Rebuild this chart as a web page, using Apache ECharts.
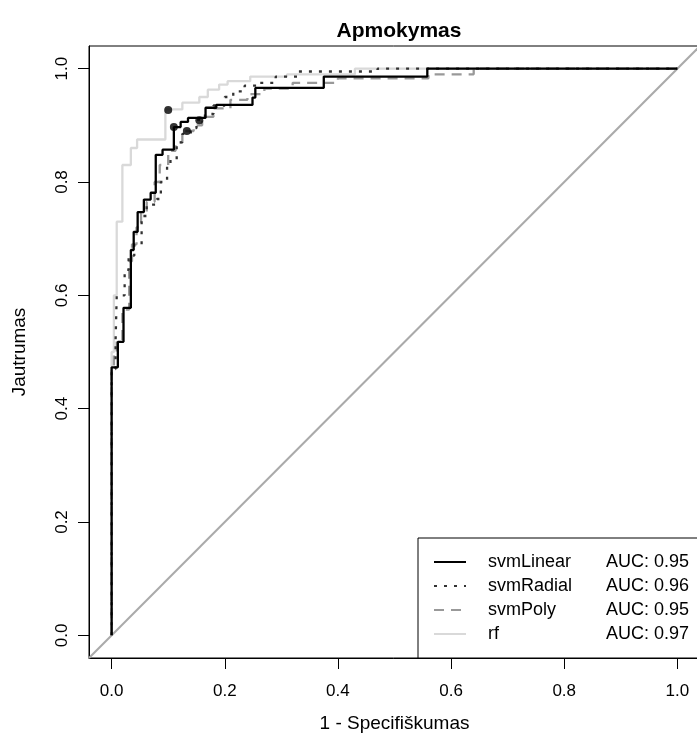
<!DOCTYPE html>
<html>
<head>
<meta charset="utf-8">
<script src="https://cdn.jsdelivr.net/npm/echarts@6/dist/echarts.min.js"></script>
<style>html,body{margin:0;padding:0;background:#fff}#c{width:697px;height:736px}</style>
</head>
<body>
<div id="c"></div>
<script>
// ---- data ----
const seriesNames = ['svmLinear', 'svmRadial', 'svmPoly', 'rf'];
const aucValues = [0.95, 0.96, 0.95, 0.97];
const xTicks = [0, 0.2, 0.4, 0.6, 0.8, 1.0];
const yTicks = [0, 0.2, 0.4, 0.6, 0.8, 1.0];
const diagonal = [[-0.04, -0.04], [1.04, 1.04]];

const svmLinear = [[0,0],[0,0.473],[0.011,0.473],[0.011,0.518],[0.021,0.518],[0.021,0.578],[0.034,0.578],[0.034,0.680],[0.039,0.680],[0.039,0.712],[0.046,0.712],[0.046,0.747],[0.057,0.747],[0.057,0.769],[0.069,0.769],[0.069,0.781],[0.078,0.781],[0.078,0.848],[0.090,0.848],[0.090,0.857],[0.110,0.857],[0.110,0.897],[0.122,0.897],[0.122,0.906],[0.135,0.906],[0.135,0.913],[0.166,0.913],[0.166,0.931],[0.185,0.931],[0.185,0.936],[0.249,0.936],[0.249,0.949],[0.254,0.949],[0.254,0.966],[0.375,0.966],[0.375,0.986],[0.558,0.986],[0.558,1],[1,1]];

const svmRadial = [[0,0],[0,0.47],[0.007,0.47],[0.007,0.52],[0.009,0.52],[0.009,0.60],[0.023,0.60],[0.023,0.645],[0.030,0.645],[0.030,0.67],[0.040,0.67],[0.040,0.69],[0.053,0.69],[0.053,0.74],[0.062,0.74],[0.062,0.76],[0.080,0.76],[0.080,0.77],[0.087,0.77],[0.087,0.80],[0.098,0.80],[0.098,0.83],[0.104,0.83],[0.104,0.84],[0.115,0.84],[0.115,0.87],[0.125,0.87],[0.125,0.885],[0.14,0.885],[0.14,0.895],[0.15,0.895],[0.15,0.91],[0.165,0.91],[0.165,0.92],[0.18,0.92],[0.18,0.935],[0.2,0.935],[0.2,0.95],[0.215,0.95],[0.215,0.96],[0.235,0.96],[0.235,0.97],[0.26,0.97],[0.26,0.975],[0.29,0.975],[0.29,0.986],[0.33,0.986],[0.33,0.995],[0.47,0.995],[0.47,1],[1,1]];

const svmPoly = [[0,0],[0,0.47],[0.004,0.47],[0.004,0.50],[0.009,0.50],[0.009,0.52],[0.019,0.52],[0.019,0.575],[0.031,0.575],[0.031,0.66],[0.036,0.66],[0.036,0.69],[0.044,0.69],[0.044,0.72],[0.052,0.72],[0.052,0.745],[0.062,0.745],[0.062,0.765],[0.076,0.765],[0.076,0.80],[0.085,0.80],[0.085,0.83],[0.1,0.83],[0.1,0.855],[0.113,0.855],[0.113,0.87],[0.125,0.87],[0.125,0.89],[0.145,0.89],[0.145,0.90],[0.16,0.90],[0.16,0.915],[0.18,0.915],[0.18,0.93],[0.21,0.93],[0.21,0.945],[0.24,0.945],[0.24,0.955],[0.27,0.955],[0.27,0.965],[0.32,0.965],[0.32,0.975],[0.4,0.975],[0.4,0.983],[0.56,0.983],[0.56,0.99],[0.64,0.99],[0.64,1],[1,1]];

const rf = [[0,0],[0,0.5],[0.004,0.5],[0.004,0.60],[0.009,0.60],[0.009,0.73],[0.019,0.73],[0.019,0.83],[0.034,0.83],[0.034,0.86],[0.045,0.86],[0.045,0.875],[0.095,0.875],[0.095,0.928],[0.125,0.928],[0.125,0.94],[0.155,0.94],[0.155,0.95],[0.17,0.95],[0.17,0.963],[0.19,0.963],[0.19,0.972],[0.205,0.972],[0.205,0.978],[0.245,0.978],[0.245,0.986],[0.31,0.986],[0.31,0.99],[0.43,0.99],[0.43,1],[1,1]];

// best-threshold points (svmLinear, svmRadial, svmPoly, rf)
const thresholdPoints = [[0.110, 0.897], [0.155, 0.909], [0.133, 0.890], [0.100, 0.927]];

// ---- chart ----
const FONT = 'Liberation Sans';
const chart = echarts.init(document.getElementById('c'), null, {renderer: 'canvas'});
const curveData = {svmLinear, svmRadial, svmPoly, rf};
const styles = {
  svmLinear: {color: '#000000', type: 'solid', z: 6},
  svmRadial: {color: '#333333', type: [3, 7], z: 5},
  svmPoly: {color: '#999999', type: [10, 7], z: 4},
  rf: {color: '#d9d9d9', type: 'solid', z: 3}
};
const series = [{
  type: 'line', name: 'diag', data: diagonal, symbol: 'none', silent: true,
  lineStyle: {color: '#aaaaaa', width: 2}, z: 2, clip: true
}];
seriesNames.forEach(n => {
  series.push({
    type: 'line', name: n, data: curveData[n], symbol: 'none', showSymbol: false, clip: true,
    lineStyle: {color: styles[n].color, width: 2.3, type: styles[n].type, cap: 'butt'},
    itemStyle: {color: styles[n].color},
    z: styles[n].z
  });
});
series.push({
  type: 'scatter', name: 'thr', data: thresholdPoints, symbol: 'circle', symbolSize: 8,
  itemStyle: {color: '#000'}, z: 8
});

const aucByName = {};
seriesNames.forEach((n, i) => aucByName[n] = aucValues[i]);

chart.setOption({
  animation: false,
  backgroundColor: '#ffffff',
  textStyle: {fontFamily: FONT},
  title: {
    text: 'Apmokymas', left: 394, top: 16, textAlign: 'center',
    textStyle: {fontFamily: FONT, fontWeight: 'bold', fontSize: 21, color: '#000'}
  },
  grid: {left: 89, top: 46, right: -3, bottom: 78, show: true, borderColor: '#000', borderWidth: 1,
    backgroundColor: 'transparent', outerBoundsMode: 'none', containLabel: false},
  xAxis: {
    type: 'value', min: -0.04, max: 1.04,
    name: '1 - Specifiškumas', nameLocation: 'middle', nameGap: 56,
    nameTextStyle: {fontFamily: FONT, fontSize: 19, color: '#000'},
    axisLine: {show: true, onZero: false, lineStyle: {color: '#000', width: 1}},
    axisTick: {show: true, customValues: xTicks, length: 11, lineStyle: {color: '#000'}},
    axisLabel: {customValues: xTicks, formatter: v => v.toFixed(1), margin: 25,
      fontFamily: FONT, fontSize: 17, color: '#000'},
    splitLine: {show: false}
  },
  yAxis: {
    type: 'value', min: -0.04, max: 1.04,
    name: 'Jautrumas', nameLocation: 'middle', nameGap: 60,
    nameTextStyle: {fontFamily: FONT, fontSize: 19, color: '#000'},
    axisLine: {show: true, onZero: false, lineStyle: {color: '#000', width: 1}},
    axisTick: {show: true, customValues: yTicks, length: 11, lineStyle: {color: '#000'}},
    axisLabel: {customValues: yTicks, formatter: v => v.toFixed(1), rotate: 90, margin: 18,
      fontFamily: FONT, fontSize: 17, color: '#000', align: 'center', verticalAlign: 'bottom'},
    splitLine: {show: false}
  },
  legend: {
    data: seriesNames, orient: 'vertical', left: 418, bottom: 78,
    backgroundColor: '#fff', borderColor: '#000', borderWidth: 1, borderRadius: 0,
    padding: [15, 20, 15, 15], itemGap: 6, itemWidth: 32, itemHeight: 14,
    selectedMode: false,
    itemStyle: {opacity: 0},
    formatter: n => '{n|' + n + '}{a|AUC: ' + aucByName[n].toFixed(2) + '}',
    textStyle: {
      fontFamily: FONT, fontSize: 18, color: '#000', lineHeight: 18,
      rich: {
        n: {width: 118, padding: [0, 0, 0, 17], fontFamily: FONT, fontSize: 18, lineHeight: 18, color: '#000'},
        a: {fontFamily: FONT, fontSize: 18, lineHeight: 18, color: '#000'}
      }
    }
  },
  series: series
});
</script>
</body>
</html>
